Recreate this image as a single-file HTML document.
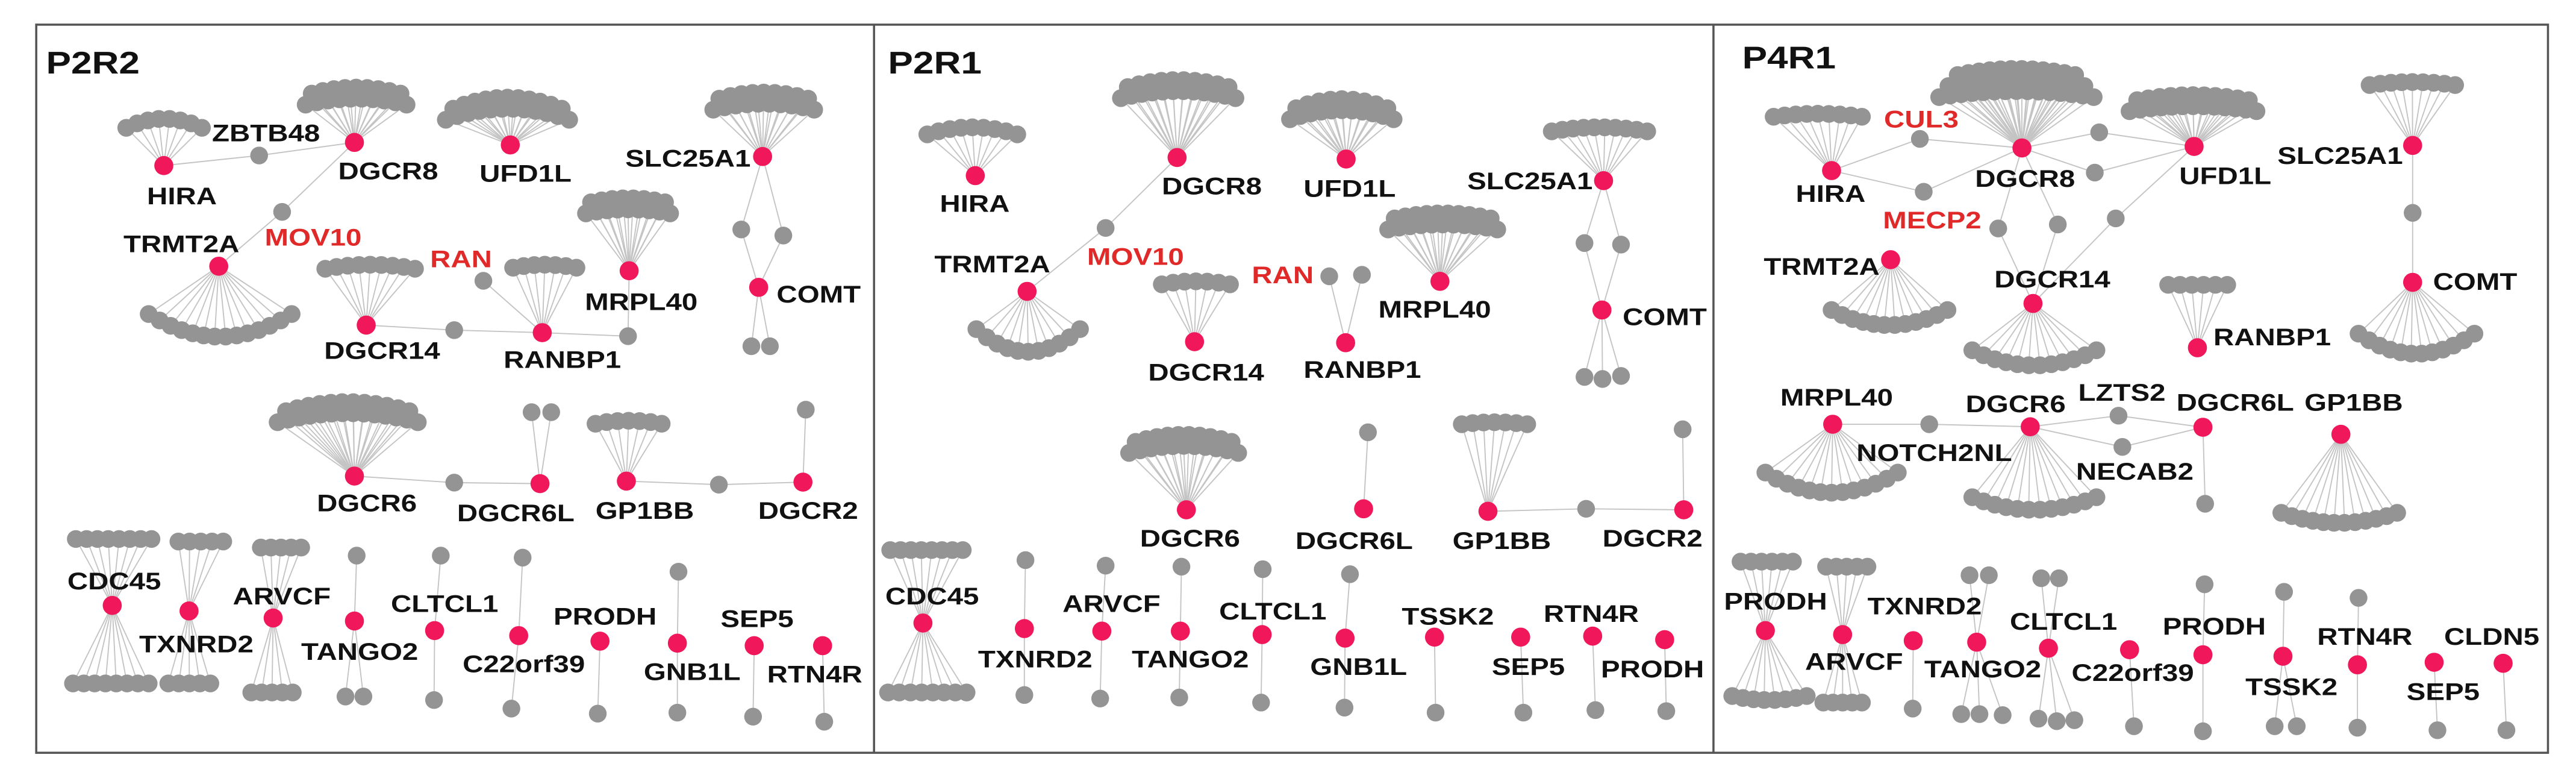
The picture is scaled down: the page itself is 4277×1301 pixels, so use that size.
<!DOCTYPE html>
<html><head><meta charset="utf-8"><style>
html,body{margin:0;padding:0;background:#fff;}
svg{display:block;}
text{font-family:"Liberation Sans",Arial,sans-serif;font-weight:bold;}
</style></head><body>
<svg id="s" xmlns="http://www.w3.org/2000/svg" width="4277" height="1301" viewBox="0 0 1568 477">
<rect x="0" y="0" width="1568" height="477" fill="#fff"/>
<g id="E" stroke="#c4c4c4" stroke-width="0.7" fill="none"></g>
<g id="G" fill="#949494"></g>
<g id="K" fill="#f0185a"></g>
<g id="T"></g>
<g fill="none" stroke="#555" stroke-width="1.3">
<rect x="22" y="15" width="1529" height="443"/>
<line x1="532" y1="15" x2="532" y2="458"/>
<line x1="1043" y1="15" x2="1043" y2="458"/>
</g>
</svg>
<script>
const NS="http://www.w3.org/2000/svg";
const P=[{ox:0,sx:2.93},{ox:527.9,sx:3.012},{ox:1041,sx:2.977}];
const X=(p,x)=>P[p].ox+x/P[p].sx, Y=y=>15+(y-58)*0.3062;
const N={};
function el(g,tag,at,txt){const e=document.createElementNS(NS,tag);for(const k in at)e.setAttribute(k,at[k]);if(txt)e.textContent=txt;document.getElementById(g).appendChild(e);return e;}
function node(p,id,x,y,pink){const px=X(p,x),py=Y(y);N[p+id]=[px,py];el(pink?'K':'G','circle',{cx:px,cy:py,r:pink?5.8:5.4});}
function edge(p,a,b){const A=N[p+a],B=N[p+b];el('E','line',{x1:A[0],y1:A[1],x2:B[0],y2:B[1]});}
function leaf(p,h,x,y){const id='L'+Math.random();node(p,id,x,y,false);edge(p,h,id);}
function lab(p,t,x,y,red,big){const e=el('T','text',{transform:`translate(${X(p,x)},${Y(y)}) scale(1.2,1)`,'font-size':big?19:14.5,fill:red?'#e02a2a':'#111'},t);if(red)e.setAttribute('font-weight','normal');}
function fan(p,h,x1,x2,yc,sag,rows,rdir){
  for(let r=0;r<rows;r++){
    const cx=(x1+x2)/2,hw=(x2-x1)/2*(1-0.12*r),yy=yc+rdir*22*r;
    const n=Math.max(2,Math.round(hw*2/20));
    for(let i=0;i<=n;i++){const t=-1+2*i/n;leaf(p,h,cx+t*hw,yy+sag*t*t);}
  }
}
// ---------- Panel 1 P2R2 ----------
let p=0;
lab(p,'P2R2',82,155,false,true);
node(p,'HIRA',292,338,1);fan(p,'HIRA',225,360,245,18,1,-1);lab(p,'HIRA',262,415);
node(p,'ZB',462,318,0);lab(p,'ZBTB48',378,290);
node(p,'DGCR8',632,292,1);fan(p,'DGCR8',545,725,205,12,2,-1);lab(p,'DGCR8',603,365);
edge(p,'HIRA','ZB');edge(p,'ZB','DGCR8');
node(p,'MOV',503,430,0);lab(p,'MOV10',472,497,true);
node(p,'UFD',910,297,1);fan(p,'UFD',795,1015,225,22,2,-1);lab(p,'UFD1L',855,370);
node(p,'SLC',1360,320,1);fan(p,'SLC',1272,1452,215,12,2,-1);lab(p,'SLC25A1',1115,340);
node(p,'g1',1322,465,0);node(p,'g2',1397,477,0);node(p,'COMT',1353,580,1);
edge(p,'SLC','g1');edge(p,'SLC','g2');edge(p,'g1','COMT');edge(p,'g2','COMT');
leaf(p,'COMT',1340,697);leaf(p,'COMT',1373,697);lab(p,'COMT',1385,610);
node(p,'TRM',390,538,1);fan(p,'TRM',265,520,678,-45,1,1);lab(p,'TRMT2A',220,510);
edge(p,'DGCR8','MOV');edge(p,'MOV','TRM');
node(p,'D14',653,655,1);fan(p,'D14',580,740,535,8,1,-1);lab(p,'DGCR14',578,722);
node(p,'RAN',862,567,0);lab(p,'RAN',767,540,true);
node(p,'RB',967,670,1);fan(p,'RB',915,1028,535,6,1,-1);lab(p,'RANBP1',898,740);
node(p,'gm',810,665,0);edge(p,'D14','gm');edge(p,'gm','RB');edge(p,'RB','RAN');
node(p,'MR',1122,547,1);fan(p,'MR',1045,1195,425,8,2,-1);lab(p,'MRPL40',1043,625);
node(p,'gr',1120,677,0);edge(p,'RB','gr');edge(p,'gr','MR');
node(p,'D6',632,955,1);fan(p,'D6',495,745,830,18,2,-1);lab(p,'DGCR6',565,1025);
node(p,'g6',810,968,0);node(p,'D6L',963,970,1);edge(p,'D6','g6');edge(p,'g6','D6L');
leaf(p,'D6L',948,828);leaf(p,'D6L',983,828);lab(p,'DGCR6L',815,1045);
node(p,'GP',1117,965,1);fan(p,'GP',1062,1180,845,6,1,-1);lab(p,'GP1BB',1062,1040);
node(p,'gg',1282,972,0);node(p,'D2',1432,967,1);edge(p,'GP','gg');edge(p,'gg','D2');
leaf(p,'D2',1437,823);lab(p,'DGCR2',1352,1040);
node(p,'CDC',200,1212,1);fan(p,'CDC',135,270,1080,0,1,-1);fan(p,'CDC',130,265,1367,0,1,1);lab(p,'CDC45',120,1180);
node(p,'TX',337,1223,1);fan(p,'TX',318,398,1085,0,1,-1);fan(p,'TX',300,375,1367,0,1,1);lab(p,'TXNRD2',248,1305);
node(p,'AR',487,1237,1);fan(p,'AR',465,537,1097,0,1,-1);fan(p,'AR',448,522,1385,0,1,1);lab(p,'ARVCF',415,1210);
node(p,'TG',632,1243,1);leaf(p,'TG',636,1113);leaf(p,'TG',616,1393);leaf(p,'TG',648,1393);lab(p,'TANGO2',537,1320);
node(p,'CL',775,1262,1);leaf(p,'CL',786,1113);leaf(p,'CL',774,1400);lab(p,'CLTCL1',697,1225);
node(p,'C22',925,1272,1);leaf(p,'C22',932,1117);leaf(p,'C22',912,1417);lab(p,'C22orf39',825,1345);
node(p,'PR',1070,1283,1);leaf(p,'PR',1066,1427);lab(p,'PRODH',987,1250);
node(p,'GN',1208,1287,1);leaf(p,'GN',1210,1145);leaf(p,'GN',1208,1425);lab(p,'GNB1L',1148,1360);
node(p,'SE',1345,1292,1);leaf(p,'SE',1343,1433);lab(p,'SEP5',1285,1255);
node(p,'RT',1467,1292,1);leaf(p,'RT',1470,1443);lab(p,'RTN4R',1368,1365);
// ---------- Panel 2 P2R1 ----------
p=1;
lab(p,'P2R1',38,155,false,true);
node(p,'HIRA',198,358,1);fan(p,'HIRA',110,275,262,14,1,-1);lab(p,'HIRA',133,430);
node(p,'DGCR8',568,322,1);fan(p,'DGCR8',465,675,190,14,2,-1);lab(p,'DGCR8',540,395);
node(p,'MOV',437,462,0);lab(p,'MOV10',403,535,true);
node(p,'TRM',293,588,1);fan(p,'TRM',200,390,708,-45,1,1);lab(p,'TRMT2A',123,550);
edge(p,'DGCR8','MOV');edge(p,'MOV','TRM');
node(p,'UFD',878,325,1);fan(p,'UFD',775,965,228,18,2,-1);lab(p,'UFD1L',800,400);
node(p,'SLC',1350,368,1);fan(p,'SLC',1255,1430,262,8,1,-1);lab(p,'SLC25A1',1100,385);
node(p,'g1',1315,492,0);node(p,'g2',1382,495,0);node(p,'COMT',1347,625,1);
edge(p,'SLC','g1');edge(p,'SLC','g2');edge(p,'g1','COMT');edge(p,'g2','COMT');
leaf(p,'COMT',1315,758);leaf(p,'COMT',1348,762);leaf(p,'COMT',1382,756);lab(p,'COMT',1385,655);
node(p,'MR',1050,568,1);fan(p,'MR',955,1155,455,10,2,-1);lab(p,'MRPL40',937,640);
node(p,'D14',600,688,1);fan(p,'D14',540,665,568,6,1,-1);lab(p,'DGCR14',515,765);
node(p,'RAN',847,558,0);node(p,'g9',907,555,0);node(p,'RB',877,690,1);edge(p,'RB','RAN');edge(p,'RB','g9');
lab(p,'RAN',705,572,true);lab(p,'RANBP1',800,760);
node(p,'D6',585,1022,1);fan(p,'D6',480,680,895,14,2,-1);lab(p,'DGCR6',500,1095);
node(p,'D6L',910,1020,1);leaf(p,'D6L',918,868);lab(p,'DGCR6L',785,1100);
node(p,'GP',1138,1025,1);fan(p,'GP',1090,1210,848,4,1,-1);lab(p,'GP1BB',1073,1100);
node(p,'gg',1318,1020,0);node(p,'D2',1497,1022,1);edge(p,'GP','gg');edge(p,'gg','D2');leaf(p,'D2',1495,862);lab(p,'DGCR2',1348,1095);
node(p,'CDC',102,1247,1);fan(p,'CDC',42,175,1102,0,1,-1);fan(p,'CDC',38,182,1385,0,1,1);lab(p,'CDC45',33,1210);
const b2=[['TX',288,1258,290,1122,288,1390,'TXNRD2',203,1335],['AR',430,1263,437,1133,427,1397,'ARVCF',358,1225],['TG',574,1263,576,1135,572,1395,'TANGO2',485,1335],['CL',724,1270,725,1140,722,1405,'CLTCL1',645,1240],['GN',876,1277,885,1150,875,1415,'GNB1L',812,1350],['TS',1040,1275,null,null,1042,1425,'TSSK2',980,1250],['SE',1198,1275,null,null,1203,1425,'SEP5',1145,1350],['RT',1330,1273,null,null,1335,1420,'RTN4R',1240,1245],['PR',1462,1280,null,null,1465,1422,'PRODH',1345,1355]];
for(const b of b2){node(p,b[0],b[1],b[2],1);if(b[3]!==null)leaf(p,b[0],b[3],b[4]);leaf(p,b[0],b[5],b[6]);lab(p,b[7],b[8],b[9]);}
// ---------- Panel 3 P4R1 ----------
p=2;
lab(p,'P4R1',58,145,false,true);
node(p,'HIRA',220,348,1);fan(p,'HIRA',115,275,235,6,1,-1);lab(p,'HIRA',155,410);
node(p,'CUL',380,285,0);lab(p,'CUL3',315,262,true);
node(p,'MEC',387,390,0);lab(p,'MECP2',313,463,true);
node(p,'DGCR8',565,303,1);fan(p,'DGCR8',415,695,190,12,3,-1);lab(p,'DGCR8',480,380);
node(p,'ga',705,272,0);node(p,'gb',697,352,0);
node(p,'UFD',877,300,1);fan(p,'UFD',760,990,220,10,2,-1);lab(p,'UFD1L',850,375);
edge(p,'HIRA','CUL');edge(p,'CUL','DGCR8');edge(p,'HIRA','MEC');edge(p,'MEC','DGCR8');
edge(p,'DGCR8','ga');edge(p,'ga','UFD');edge(p,'DGCR8','gb');edge(p,'gb','UFD');
node(p,'D14',585,612,1);fan(p,'D14',475,700,735,-30,1,1);lab(p,'DGCR14',515,580);
node(p,'gc',522,463,0);node(p,'gd',630,455,0);node(p,'ge',735,443,0);
edge(p,'DGCR8','gc');edge(p,'gc','D14');edge(p,'DGCR8','gd');edge(p,'gd','D14');edge(p,'UFD','ge');edge(p,'ge','D14');
node(p,'TRM',327,525,1);fan(p,'TRM',220,430,655,-30,1,1);lab(p,'TRMT2A',97,555);
node(p,'SLC',1273,298,1);fan(p,'SLC',1195,1350,172,6,1,-1);lab(p,'SLC25A1',1028,335);
node(p,'gs',1273,432,0);node(p,'COMT',1273,570,1);edge(p,'SLC','gs');edge(p,'gs','COMT');
fan(p,'COMT',1175,1385,712,-40,1,1);lab(p,'COMT',1310,585);
node(p,'RB',883,700,1);fan(p,'RB',830,937,575,0,1,-1);lab(p,'RANBP1',912,695);
node(p,'MR',222,852,1);fan(p,'MR',100,340,988,-40,1,1);lab(p,'MRPL40',127,815);
node(p,'gn',397,852,0);lab(p,'NOTCH2NL',265,925);
node(p,'D6',580,857,1);fan(p,'D6',475,700,1022,-25,1,1);lab(p,'DGCR6',463,828);
node(p,'LZ',740,835,0);lab(p,'LZTS2',667,805);node(p,'NE',747,897,0);lab(p,'NECAB2',663,962);
node(p,'D6L',893,858,1);leaf(p,'D6L',897,1010);lab(p,'DGCR6L',845,825);
edge(p,'MR','gn');edge(p,'gn','D6');edge(p,'D6','LZ');edge(p,'LZ','D6L');edge(p,'D6','NE');edge(p,'NE','D6L');
node(p,'GP',1143,872,1);fan(p,'GP',1035,1245,1048,-20,1,1);lab(p,'GP1BB',1077,825);
node(p,'PR',100,1262,1);fan(p,'PR',55,150,1125,0,1,-1);fan(p,'PR',40,175,1400,-8,1,1);lab(p,'PRODH',25,1220);
node(p,'AR',240,1270,1);fan(p,'AR',210,285,1135,0,1,-1);fan(p,'AR',205,275,1405,0,1,1);lab(p,'ARVCF',172,1340);
node(p,'TX',368,1282,1);leaf(p,'TX',367,1417);lab(p,'TXNRD2',285,1230);
node(p,'TG',483,1285,1);leaf(p,'TG',470,1152);leaf(p,'TG',505,1152);leaf(p,'TG',455,1428);leaf(p,'TG',488,1428);leaf(p,'TG',530,1430);lab(p,'TANGO2',388,1355);
node(p,'CL',613,1297,1);leaf(p,'CL',600,1158);leaf(p,'CL',632,1158);leaf(p,'CL',595,1437);leaf(p,'CL',628,1442);leaf(p,'CL',660,1440);lab(p,'CLTCL1',543,1260);
node(p,'C22',760,1300,1);leaf(p,'C22',768,1452);lab(p,'C22orf39',655,1362);
node(p,'P2',893,1310,1);leaf(p,'P2',896,1170);leaf(p,'P2',893,1462);lab(p,'PRODH',820,1270);
node(p,'TS',1038,1313,1);leaf(p,'TS',1040,1185);leaf(p,'TS',1023,1452);leaf(p,'TS',1063,1452);lab(p,'TSSK2',970,1390);
node(p,'RT',1173,1330,1);leaf(p,'RT',1175,1197);leaf(p,'RT',1173,1455);lab(p,'RTN4R',1100,1290);
node(p,'SE',1312,1325,1);leaf(p,'SE',1318,1460);lab(p,'SEP5',1262,1400);
node(p,'CD',1437,1327,1);leaf(p,'CD',1443,1460);lab(p,'CLDN5',1330,1290);
</script>
</body></html>
